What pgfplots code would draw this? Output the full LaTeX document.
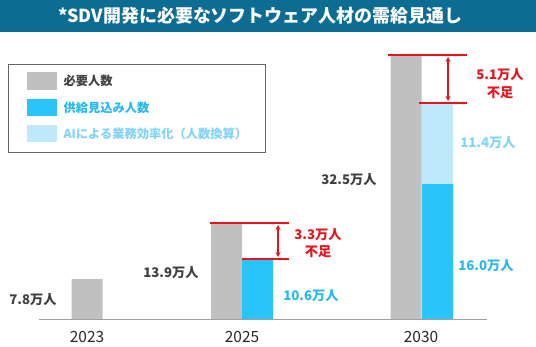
\documentclass[border=0pt]{standalone}
\usepackage{fontspec}
\setmainfont{Noto Sans CJK JP}
\usepackage{pgfplots}
\pgfplotsset{compat=1.18}
\usetikzlibrary{arrows.meta}
\definecolor{titleblue}{RGB}{12,108,146}
\definecolor{barGray}{RGB}{192,192,192}
\definecolor{barBlue}{RGB}{40,196,250}
\definecolor{barLight}{RGB}{190,233,251}
\definecolor{txtGray}{RGB}{64,64,64}
\definecolor{txtBlue}{RGB}{38,184,240}
\definecolor{txtLight}{RGB}{130,212,246}
\definecolor{myRed}{RGB}{232,18,26}
\definecolor{axGray}{RGB}{160,160,160}
\begin{document}
\begin{tikzpicture}
\begin{axis}[scale only axis, width=536bp, height=353bp,
  xmin=0, xmax=536, ymin=-34, ymax=319,
  axis lines=none, clip=false]
% title band
\fill[titleblue] (axis cs:0,287) rectangle (axis cs:536,319);
\node[text=white, font=\fontsize{18}{20}\selectfont\bfseries] at (axis cs:260,303) {*SDV開発に必要なソフトウェア人材の需給見通し};
% legend
\draw[draw=gray!80!black, line width=0.8pt] (axis cs:8,255) rectangle (axis cs:265,167);
\fill[barGray] (axis cs:27,229) rectangle (axis cs:57,247);
\fill[barBlue] (axis cs:27,203) rectangle (axis cs:57,220);
\fill[barLight] (axis cs:27,177) rectangle (axis cs:57,194);
\node[anchor=west, text=txtGray, font=\fontsize{12.3}{14}\selectfont\bfseries] at (axis cs:60,238) {必要人数};
\node[anchor=west, text=txtBlue, font=\fontsize{12.3}{14}\selectfont\bfseries] at (axis cs:60,211.5) {供給見込み人数};
\node[anchor=west, text=txtLight, font=\fontsize{12.3}{14}\selectfont\bfseries] at (axis cs:60,185.5) {AIによる業務効率化（人数換算）};
% bars (heights as drawn)
\addplot[ybar, bar width=31, bar shift=0pt, fill=barGray, draw=none] coordinates {(87,40) (226.5,96) (406,264)};
\addplot[ybar, bar width=31, bar shift=0pt, fill=barLight, draw=none] coordinates {(437.5,216)};
\addplot[ybar, bar width=31, bar shift=0pt, fill=barBlue, draw=none] coordinates {(257.5,60) (437.5,135)};
% baseline
\draw[axGray, line width=0.9pt] (axis cs:39,0) -- (axis cs:487,0);
% shortfall markers
\addplot[myRed, line width=2.6pt, no marks] coordinates {(210,96) (289,96)};
\addplot[myRed, line width=2.6pt, no marks] coordinates {(242,60) (289,60)};
\draw[myRed, line width=1.5pt, {Stealth[length=5pt,width=5pt]}-{Stealth[length=5pt,width=5pt]}] (axis cs:278,94) -- (axis cs:278,62);
\addplot[myRed, line width=2.6pt, no marks] coordinates {(388,264) (467,264)};
\addplot[myRed, line width=2.6pt, no marks] coordinates {(419,216) (467,216)};
\draw[myRed, line width=1.5pt, {Stealth[length=5pt,width=5pt]}-{Stealth[length=5pt,width=5pt]}] (axis cs:448,262) -- (axis cs:448,218);
\node[text=myRed, align=center, font=\fontsize{13.3}{17.5}\selectfont\bfseries] at (axis cs:318,76) {3.3万人\\不足};
\node[text=myRed, align=center, font=\fontsize{13.3}{17.5}\selectfont\bfseries] at (axis cs:500,235.5) {5.1万人\\不足};
% value labels
\node[text=txtGray, font=\fontsize{13.3}{15}\selectfont\bfseries] at (axis cs:33,19) {7.8万人};
\node[text=txtGray, font=\fontsize{13.3}{15}\selectfont\bfseries] at (axis cs:171,46) {13.9万人};
\node[text=txtBlue, font=\fontsize{13.3}{15}\selectfont\bfseries] at (axis cs:311,23) {10.6万人};
\node[text=txtBlue, font=\fontsize{13.3}{15}\selectfont\bfseries] at (axis cs:486,53) {16.0万人};
\node[text=txtGray, font=\fontsize{13.3}{15}\selectfont\bfseries] at (axis cs:349,139) {32.5万人};
\node[text=txtLight, font=\fontsize{13.3}{15}\selectfont\bfseries] at (axis cs:488,176) {11.4万人};
% year labels
\node[text=black!85, font=\fontsize{15.5}{18}\selectfont] at (axis cs:87,-18) {2023};
\node[text=black!85, font=\fontsize{15.5}{18}\selectfont] at (axis cs:242,-18) {2025};
\node[text=black!85, font=\fontsize{15.5}{18}\selectfont] at (axis cs:421,-18) {2030};
\end{axis}
\end{tikzpicture}
\end{document}
